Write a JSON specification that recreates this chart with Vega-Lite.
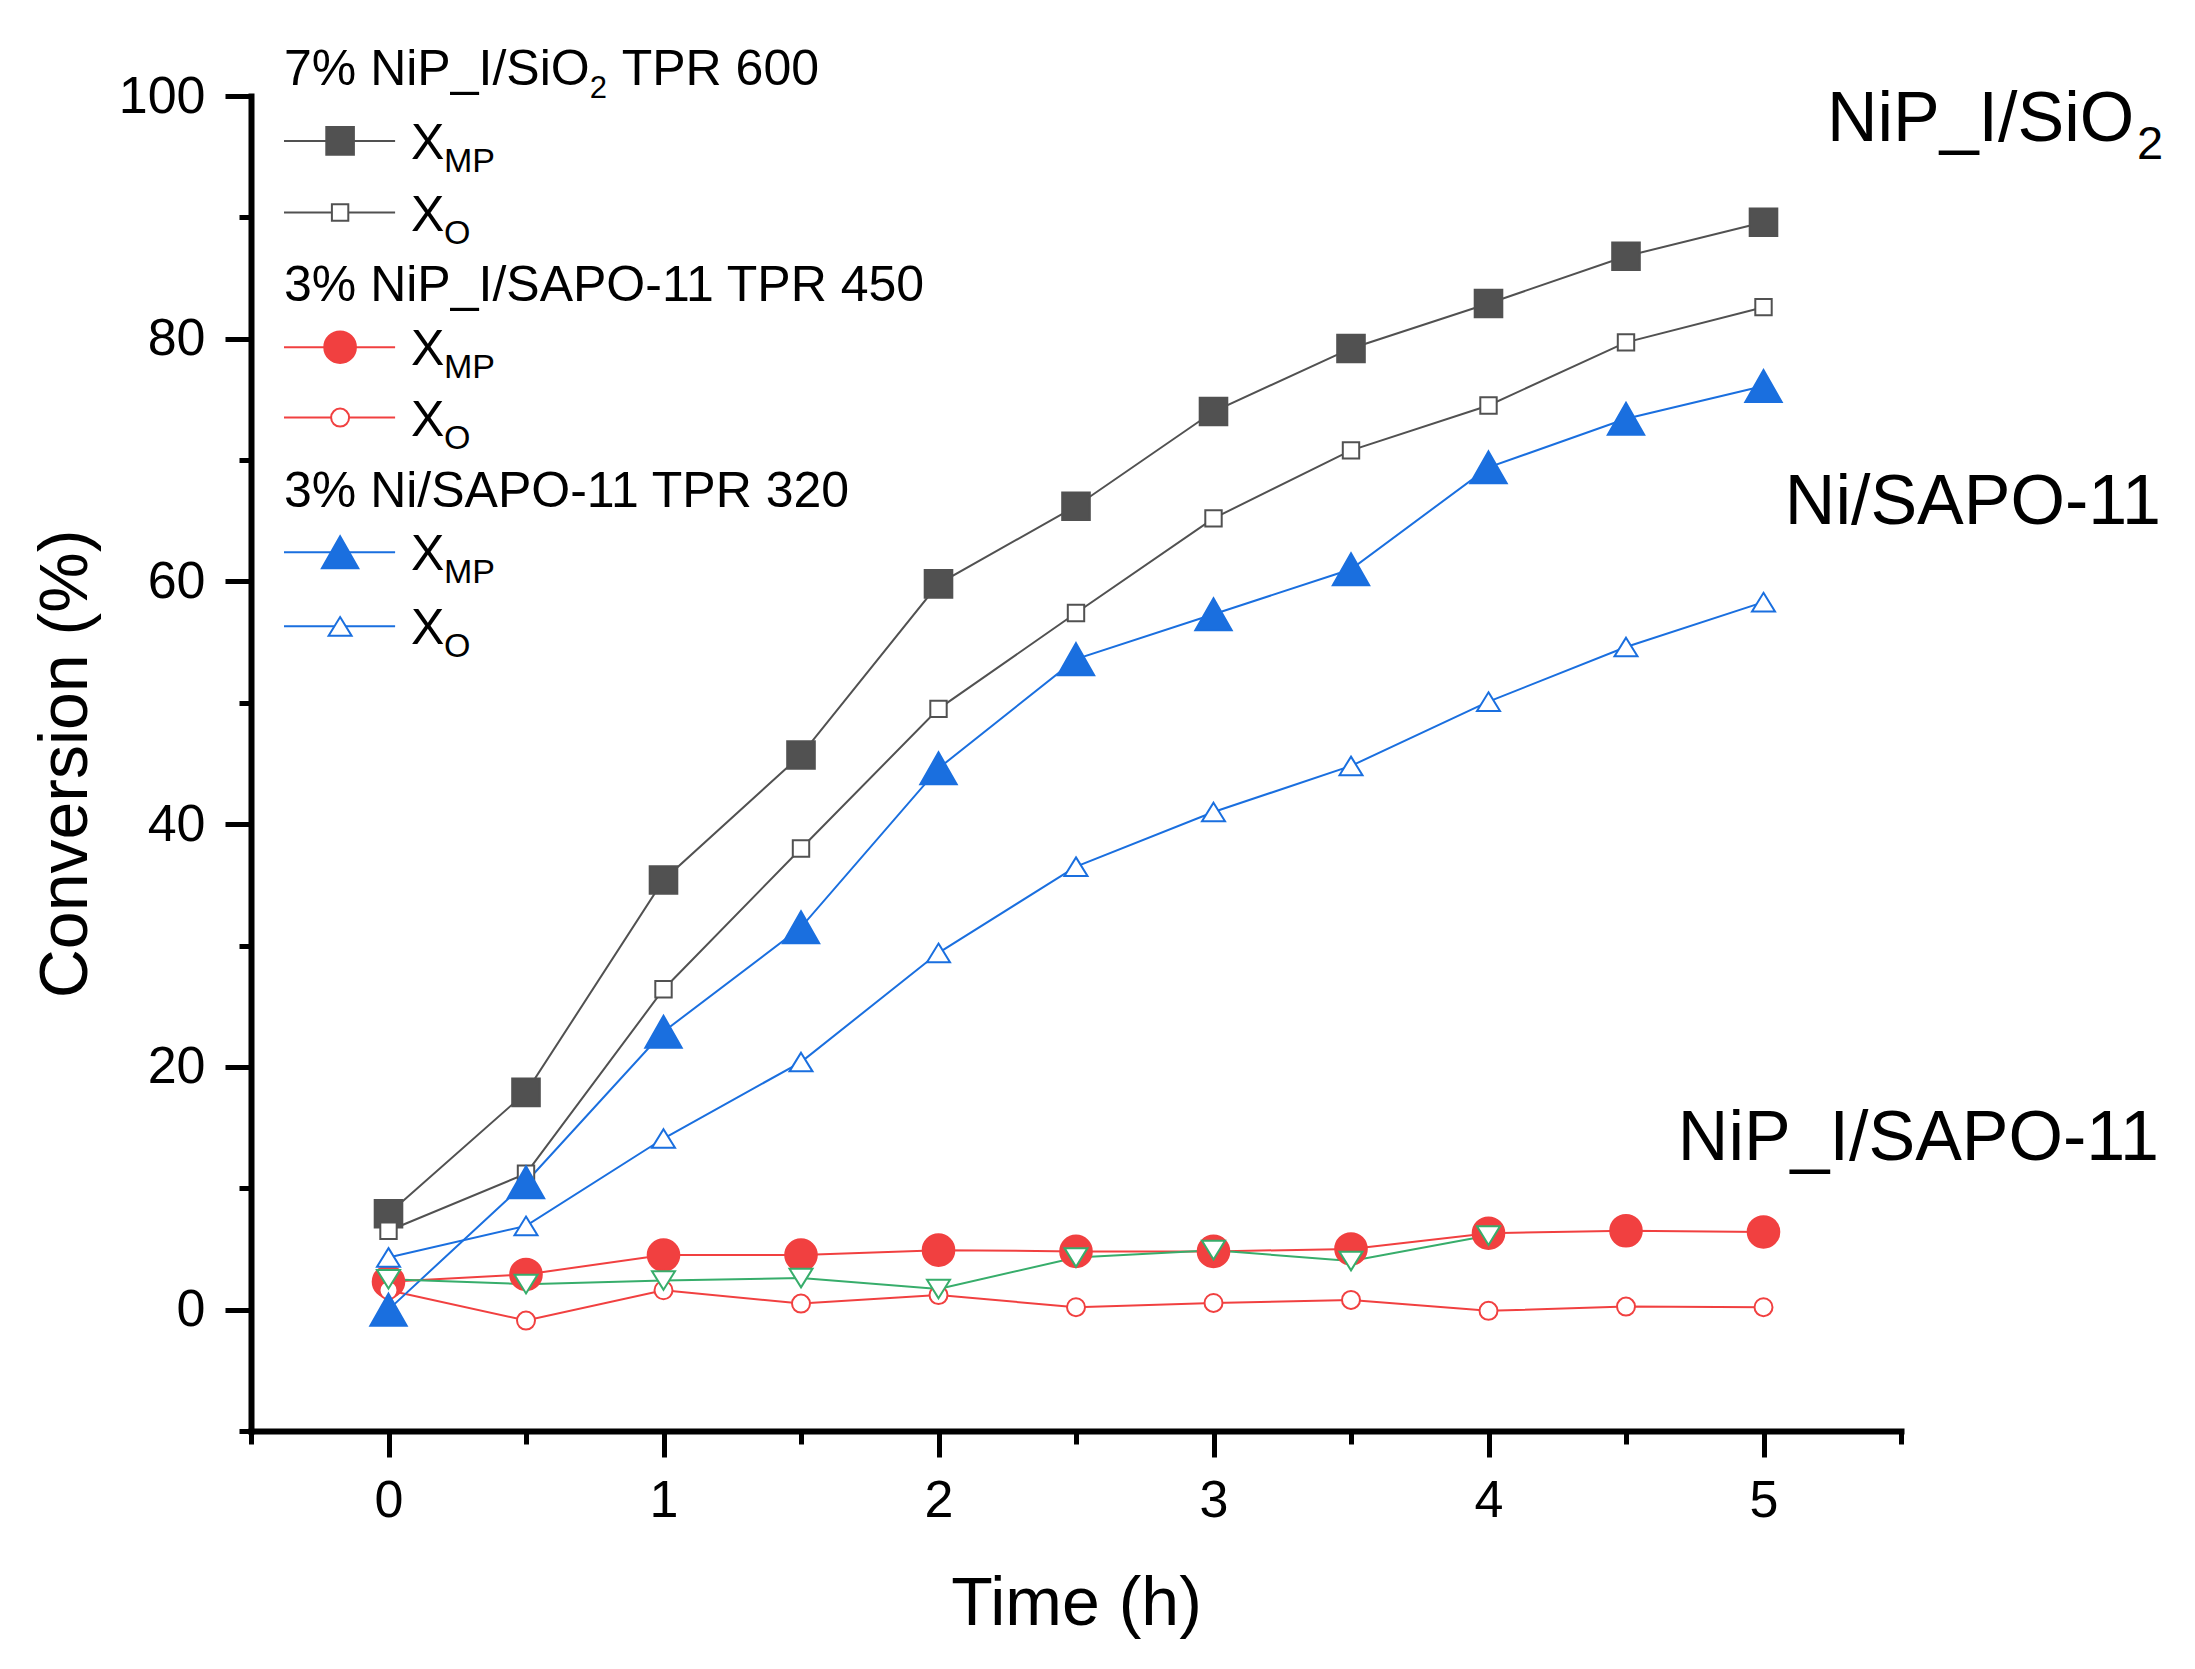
{
  "$schema": "https://vega.github.io/schema/vega-lite/v6.json",
  "width": 1650,
  "height": 1335,
  "autosize": {"type": "none"},
  "padding": {"left": 251, "top": 96, "right": 294, "bottom": 238},
  "background": "white",
  "datasets": {
    "conv": [
      {"time": 0, "value": 7.9, "series": "SiO2_MP"},
      {"time": 0.5, "value": 17.9, "series": "SiO2_MP"},
      {"time": 1, "value": 35.4, "series": "SiO2_MP"},
      {"time": 1.5, "value": 45.7, "series": "SiO2_MP"},
      {"time": 2, "value": 59.8, "series": "SiO2_MP"},
      {"time": 2.5, "value": 66.2, "series": "SiO2_MP"},
      {"time": 3, "value": 74.0, "series": "SiO2_MP"},
      {"time": 3.5, "value": 79.2, "series": "SiO2_MP"},
      {"time": 4, "value": 82.9, "series": "SiO2_MP"},
      {"time": 4.5, "value": 86.8, "series": "SiO2_MP"},
      {"time": 5, "value": 89.6, "series": "SiO2_MP"},
      {"time": 0, "value": 6.5, "series": "SiO2_O"},
      {"time": 0.5, "value": 11.2, "series": "SiO2_O"},
      {"time": 1, "value": 26.4, "series": "SiO2_O"},
      {"time": 1.5, "value": 38.0, "series": "SiO2_O"},
      {"time": 2, "value": 49.5, "series": "SiO2_O"},
      {"time": 2.5, "value": 57.4, "series": "SiO2_O"},
      {"time": 3, "value": 65.2, "series": "SiO2_O"},
      {"time": 3.5, "value": 70.8, "series": "SiO2_O"},
      {"time": 4, "value": 74.5, "series": "SiO2_O"},
      {"time": 4.5, "value": 79.7, "series": "SiO2_O"},
      {"time": 5, "value": 82.6, "series": "SiO2_O"},
      {"time": 0, "value": 2.3, "series": "NiPSAPO_MP"},
      {"time": 0.5, "value": 2.9, "series": "NiPSAPO_MP"},
      {"time": 1, "value": 4.5, "series": "NiPSAPO_MP"},
      {"time": 1.5, "value": 4.5, "series": "NiPSAPO_MP"},
      {"time": 2, "value": 4.9, "series": "NiPSAPO_MP"},
      {"time": 2.5, "value": 4.8, "series": "NiPSAPO_MP"},
      {"time": 3, "value": 4.8, "series": "NiPSAPO_MP"},
      {"time": 3.5, "value": 5.0, "series": "NiPSAPO_MP"},
      {"time": 4, "value": 6.3, "series": "NiPSAPO_MP"},
      {"time": 4.5, "value": 6.5, "series": "NiPSAPO_MP"},
      {"time": 5, "value": 6.4, "series": "NiPSAPO_MP"},
      {"time": 0, "value": 1.6, "series": "NiPSAPO_O"},
      {"time": 0.5, "value": -0.9, "series": "NiPSAPO_O"},
      {"time": 1, "value": 1.6, "series": "NiPSAPO_O"},
      {"time": 1.5, "value": 0.5, "series": "NiPSAPO_O"},
      {"time": 2, "value": 1.2, "series": "NiPSAPO_O"},
      {"time": 2.5, "value": 0.2, "series": "NiPSAPO_O"},
      {"time": 3, "value": 0.55, "series": "NiPSAPO_O"},
      {"time": 3.5, "value": 0.8, "series": "NiPSAPO_O"},
      {"time": 4, "value": -0.1, "series": "NiPSAPO_O"},
      {"time": 4.5, "value": 0.25, "series": "NiPSAPO_O"},
      {"time": 5, "value": 0.2, "series": "NiPSAPO_O"},
      {"time": 0, "value": 0.0, "series": "NiSAPO_MP"},
      {"time": 0.5, "value": 10.5, "series": "NiSAPO_MP"},
      {"time": 1, "value": 22.9, "series": "NiSAPO_MP"},
      {"time": 1.5, "value": 31.5, "series": "NiSAPO_MP"},
      {"time": 2, "value": 44.6, "series": "NiSAPO_MP"},
      {"time": 2.5, "value": 53.6, "series": "NiSAPO_MP"},
      {"time": 3, "value": 57.3, "series": "NiSAPO_MP"},
      {"time": 3.5, "value": 61.0, "series": "NiSAPO_MP"},
      {"time": 4, "value": 69.4, "series": "NiSAPO_MP"},
      {"time": 4.5, "value": 73.4, "series": "NiSAPO_MP"},
      {"time": 5, "value": 76.1, "series": "NiSAPO_MP"},
      {"time": 0, "value": 4.3, "series": "NiSAPO_O"},
      {"time": 0.5, "value": 6.9, "series": "NiSAPO_O"},
      {"time": 1, "value": 14.1, "series": "NiSAPO_O"},
      {"time": 1.5, "value": 20.4, "series": "NiSAPO_O"},
      {"time": 2, "value": 29.4, "series": "NiSAPO_O"},
      {"time": 2.5, "value": 36.5, "series": "NiSAPO_O"},
      {"time": 3, "value": 41.0, "series": "NiSAPO_O"},
      {"time": 3.5, "value": 44.8, "series": "NiSAPO_O"},
      {"time": 4, "value": 50.1, "series": "NiSAPO_O"},
      {"time": 4.5, "value": 54.6, "series": "NiSAPO_O"},
      {"time": 5, "value": 58.3, "series": "NiSAPO_O"},
      {"time": 0, "value": 2.5, "series": "extra"},
      {"time": 0.5, "value": 2.1, "series": "extra"},
      {"time": 1, "value": 2.4, "series": "extra"},
      {"time": 1.5, "value": 2.6, "series": "extra"},
      {"time": 2, "value": 1.7, "series": "extra"},
      {"time": 2.5, "value": 4.3, "series": "extra"},
      {"time": 3, "value": 4.9, "series": "extra"},
      {"time": 3.5, "value": 4.0, "series": "extra"},
      {"time": 4, "value": 6.1, "series": "extra"}
    ],
    "legendRows": [
      {"series": "SiO2_MP", "level": 96.3, "sub": "MP"},
      {"series": "SiO2_O", "level": 90.4, "sub": "O"},
      {"series": "NiPSAPO_MP", "level": 79.3, "sub": "MP"},
      {"series": "NiPSAPO_O", "level": 73.5, "sub": "O"},
      {"series": "NiSAPO_MP", "level": 62.4, "sub": "MP"},
      {"series": "NiSAPO_O", "level": 56.3, "sub": "O"}
    ],
    "notes": [
      {"label": "7% NiP_I/SiO", "t": -0.38, "v": 100.9, "kind": "head"},
      {"label": "TPR 600", "t": 0.848, "v": 100.9, "kind": "head"},
      {"label": "3% NiP_I/SAPO-11 TPR 450", "t": -0.38, "v": 83.1, "kind": "head"},
      {"label": "3% Ni/SAPO-11 TPR 320", "t": -0.38, "v": 66.1, "kind": "head"},
      {"label": "2", "t": 0.732, "v": 99.8, "kind": "headsub"},
      {"label": "NiP_I/SiO", "t": 6.348, "v": 96.3, "kind": "big"},
      {"label": "Ni/SAPO-11", "t": 6.445, "v": 64.7, "kind": "big"},
      {"label": "NiP_I/SAPO-11", "t": 6.438, "v": 12.3, "kind": "big"},
      {"label": "2", "t": 6.358, "v": 94.8, "kind": "bigsub"}
    ]
  },
  "layer": [
    {
      "data": {"name": "conv"},
      "mark": {"type": "line", "strokeWidth": 2, "clip": false},
      "encoding": {
        "x": {
          "field": "time", "type": "quantitative",
          "scale": {"domain": [-0.5, 5.5], "nice": false, "zero": false},
          "axis": {
            "orient": "bottom", "values": [0, 1, 2, 3, 4, 5], "title": "Time (h)",
            "grid": false, "domainWidth": 6, "domainColor": "black", "domainCap": "square",
            "tickColor": "black", "tickWidth": 5, "tickSize": 26,
            "labelFontSize": 52, "labelPadding": 18, "labelColor": "black",
            "titleFontSize": 68, "titleFontWeight": "normal", "titleColor": "black", "titlePadding": 44
          }
        },
        "y": {
          "field": "value", "type": "quantitative",
          "scale": {"domain": [-10, 100], "nice": false, "zero": false},
          "axis": {
            "orient": "left", "values": [0, 20, 40, 60, 80, 100], "title": "Conversion (%)",
            "grid": false, "domainWidth": 6, "domainColor": "black", "domainCap": "square",
            "tickColor": "black", "tickWidth": 5, "tickSize": 26,
            "labelFontSize": 52, "labelPadding": 20, "labelColor": "black",
            "titleFontSize": 68, "titleFontWeight": "normal", "titleColor": "black", "titlePadding": 18
          }
        },
        "stroke": {
          "field": "series", "type": "nominal", "legend": null,
          "scale": {
            "domain": ["SiO2_MP", "SiO2_O", "NiPSAPO_MP", "NiPSAPO_O", "NiSAPO_MP", "NiSAPO_O", "extra"],
            "range": ["#515151", "#515151", "#F14040", "#F14040", "#1A6FDF", "#1A6FDF", "#37AD6B"]
          }
        },
        "order": {"field": "time", "type": "quantitative"}
      }
    },
    {
      "data": {"name": "conv"},
      "mark": {"type": "point", "filled": true, "size": 1600, "strokeWidth": 2, "opacity": 1, "clip": false},
      "encoding": {
        "x": {"field": "time", "type": "quantitative", "axis": null},
        "y": {"field": "value", "type": "quantitative", "axis": null},
        "stroke": {"field": "series", "type": "nominal", "legend": null},
        "fill": {
          "field": "series", "type": "nominal", "legend": null,
          "scale": {
            "domain": ["SiO2_MP", "SiO2_O", "NiPSAPO_MP", "NiPSAPO_O", "NiSAPO_MP", "NiSAPO_O", "extra"],
            "range": ["#515151", "white", "#F14040", "white", "#1A6FDF", "white", "white"]
          }
        },
        "shape": {
          "field": "series", "type": "nominal", "legend": null,
          "scale": {
            "domain": ["SiO2_MP", "SiO2_O", "NiPSAPO_MP", "NiPSAPO_O", "NiSAPO_MP", "NiSAPO_O", "extra"],
            "range": [
              "M-0.69,-0.69H0.69V0.69H-0.69Z",
              "M-0.41,-0.41H0.41V0.41H-0.41Z",
              "M0.79,0A0.79,0.79,0,1,1,-0.79,0A0.79,0.79,0,1,1,0.79,0Z",
              "M0.45,0A0.45,0.45,0,1,1,-0.45,0A0.45,0.45,0,1,1,0.45,0Z",
              "M0,-0.8L0.91,0.8L-0.91,0.8Z",
              "M0,-0.465L0.575,0.465L-0.575,0.465Z",
              "M0,0.465L0.575,-0.465L-0.575,-0.465Z"
            ]
          }
        }
      }
    },
    {
      "data": {"name": "legendRows"},
      "mark": {"type": "rule", "strokeWidth": 2, "clip": false},
      "encoding": {
        "x": {"datum": -0.38, "type": "quantitative", "axis": null},
        "x2": {"datum": 0.024},
        "y": {"field": "level", "type": "quantitative", "axis": null},
        "stroke": {"field": "series", "type": "nominal", "legend": null}
      }
    },
    {
      "data": {"name": "legendRows"},
      "mark": {"type": "point", "filled": true, "size": 1600, "strokeWidth": 2, "opacity": 1, "clip": false},
      "encoding": {
        "x": {"datum": -0.176, "type": "quantitative", "axis": null},
        "y": {"field": "level", "type": "quantitative", "axis": null},
        "stroke": {"field": "series", "type": "nominal", "legend": null},
        "fill": {"field": "series", "type": "nominal", "legend": null},
        "shape": {"field": "series", "type": "nominal", "legend": null}
      }
    },
    {
      "data": {"name": "legendRows"},
      "mark": {"type": "text", "text": "X", "align": "left", "baseline": "alphabetic", "dy": 18, "fontSize": 50, "color": "black", "clip": false},
      "encoding": {
        "x": {"datum": 0.082, "type": "quantitative", "axis": null},
        "y": {"field": "level", "type": "quantitative", "axis": null}
      }
    },
    {
      "data": {"name": "legendRows"},
      "mark": {"type": "text", "align": "left", "baseline": "alphabetic", "dy": 31, "fontSize": 34, "color": "black", "clip": false},
      "encoding": {
        "x": {"datum": 0.202, "type": "quantitative", "axis": null},
        "y": {"field": "level", "type": "quantitative", "axis": null},
        "text": {"field": "sub"}
      }
    },
    {
      "data": {"name": "notes"},
      "transform": [{"filter": "datum.kind === 'head'"}],
      "mark": {"type": "text", "align": "left", "baseline": "alphabetic", "fontSize": 50, "color": "black", "clip": false},
      "encoding": {
        "x": {"field": "t", "type": "quantitative", "axis": null},
        "y": {"field": "v", "type": "quantitative", "axis": null},
        "text": {"field": "label"}
      }
    },
    {
      "data": {"name": "notes"},
      "transform": [{"filter": "datum.kind === 'headsub'"}],
      "mark": {"type": "text", "align": "left", "baseline": "alphabetic", "fontSize": 31, "color": "black", "clip": false},
      "encoding": {
        "x": {"field": "t", "type": "quantitative", "axis": null},
        "y": {"field": "v", "type": "quantitative", "axis": null},
        "text": {"field": "label"}
      }
    },
    {
      "data": {"name": "notes"},
      "transform": [{"filter": "datum.kind === 'big'"}],
      "mark": {"type": "text", "align": "right", "baseline": "alphabetic", "fontSize": 70, "color": "black", "clip": false},
      "encoding": {
        "x": {"field": "t", "type": "quantitative", "axis": null},
        "y": {"field": "v", "type": "quantitative", "axis": null},
        "text": {"field": "label"}
      }
    },
    {
      "data": {"name": "notes"},
      "transform": [{"filter": "datum.kind === 'bigsub'"}],
      "mark": {"type": "text", "align": "left", "baseline": "alphabetic", "fontSize": 47, "color": "black", "clip": false},
      "encoding": {
        "x": {"field": "t", "type": "quantitative", "axis": null},
        "y": {"field": "v", "type": "quantitative", "axis": null},
        "text": {"field": "label"}
      }
    },
    {
      "data": {"name": "conv"},
      "mark": {"type": "point", "opacity": 0},
      "encoding": {
        "x": {
          "field": "time", "type": "quantitative",
          "axis": {
            "orient": "bottom", "values": [-0.5, 0.5, 1.5, 2.5, 3.5, 4.5, 5.5],
            "labels": false, "domain": false, "grid": false, "title": null,
            "tickColor": "black", "tickWidth": 5, "tickSize": 13
          }
        },
        "y": {
          "field": "value", "type": "quantitative",
          "axis": {
            "orient": "left", "values": [-10, 10, 30, 50, 70, 90],
            "labels": false, "domain": false, "grid": false, "title": null,
            "tickColor": "black", "tickWidth": 5, "tickSize": 12
          }
        }
      }
    }
  ],
  "resolve": {"axis": {"x": "independent", "y": "independent"}},
  "config": {
    "font": "Liberation Sans",
    "view": {"stroke": null},
    "axis": {"labelFont": "Liberation Sans", "titleFont": "Liberation Sans"}
  }
}
